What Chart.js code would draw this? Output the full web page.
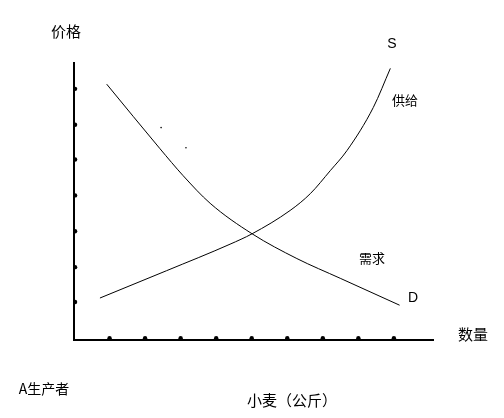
<!DOCTYPE html>
<html>
<head>
<meta charset="utf-8">
<script src="https://cdn.jsdelivr.net/npm/chart.js@4"></script>
<style>
html,body{margin:0;padding:0;background:#fff;}
#wrap{width:504px;height:418px;}
</style>
</head>
<body>
<div id="wrap"><canvas id="c" width="504" height="418"></canvas></div>
<script>
// Demand curve (quantity, price)
const demandX = [0.92, 2.42, 3.07, 3.83, 5.01, 6.27, 7.49, 9.16];
const demandY = [7.13, 5.33, 4.58, 3.81, 2.96, 2.27, 1.72, 0.97];
// Supply curve (quantity, price)
const supplyX = [0.73, 2.6, 4.39, 5.01, 6.08, 6.65, 7.21, 7.68, 8.42, 8.90];
const supplyY = [1.17, 1.93, 2.67, 2.96, 3.61, 4.08, 4.72, 5.28, 6.48, 7.57];
// Tick dots on axes
const xTickDots = [1, 2, 3, 4, 5, 6, 7, 8, 9];
const yTickDots = [1.06, 2.03, 3.03, 4.03, 5.03, 6, 7];
// Stray marks
const strayX = [2.45, 3.15];
const strayY = [5.92, 5.36];

const texts = [
  {t:'价格', x:66, y:31, size:15},
  {t:'S', x:392, y:44, size:14, latin:true},
  {t:'供给', x:405, y:100, size:13},
  {t:'需求', x:372, y:258, size:13},
  {t:'D', x:413, y:298, size:14, latin:true},
  {t:'数量', x:473, y:334, size:15},
  {t:'A生产者', x:44, y:389, size:14},
  {t:'小麦（公斤）', x:292, y:400, size:15}
];

const zip = (xs, ys) => xs.map((x, i) => ({x, y: ys[i]}));

const textPlugin = {
  id: 'texts',
  afterDraw(chart) {
    const ctx = chart.ctx;
    ctx.save();
    ctx.fillStyle = '#000';
    ctx.textAlign = 'center';
    ctx.textBaseline = 'middle';
    texts.forEach(o => {
      ctx.font = o.size + 'px ' + (o.latin ? '"Liberation Sans", "DejaVu Sans"' : '"Noto Sans CJK SC"');
      ctx.fillText(o.t, o.x, o.y);
    });
    ctx.restore();
  }
};

new Chart(document.getElementById('c'), {
  type: 'scatter',
  data: {
    datasets: [
      {data: zip(demandX, demandY), showLine: true, borderColor: '#000', borderWidth: 1, pointRadius: 0, cubicInterpolationMode: 'monotone', fill: false},
      {data: zip(supplyX, supplyY), showLine: true, borderColor: '#000', borderWidth: 1, pointRadius: 0, cubicInterpolationMode: 'monotone', fill: false},
      {data: xTickDots.map(x => ({x, y: 0.05})), pointRadius: 2.2, backgroundColor: '#000', borderWidth: 0},
      {data: yTickDots.map(y => ({x: 0.03, y})), pointRadius: 2.2, backgroundColor: '#000', borderWidth: 0},
      {data: zip(strayX, strayY), pointRadius: 0.8, backgroundColor: '#000', borderWidth: 0}
    ]
  },
  options: {
    responsive: false,
    animation: false,
    events: [],
    layout: {padding: {left: 74, right: 71, top: 63, bottom: 78}},
    plugins: {legend: {display: false}, tooltip: {enabled: false}},
    scales: {
      x: {
        type: 'linear', min: 0, max: 10.1,
        grid: {display: false, drawTicks: false},
        ticks: {display: false},
        border: {display: true, color: '#000', width: 2}
      },
      y: {
        type: 'linear', min: 0, max: 7.72,
        grid: {display: false, drawTicks: false},
        ticks: {display: false},
        border: {display: true, color: '#000', width: 2}
      }
    }
  },
  plugins: [textPlugin]
});
</script>
</body>
</html>
